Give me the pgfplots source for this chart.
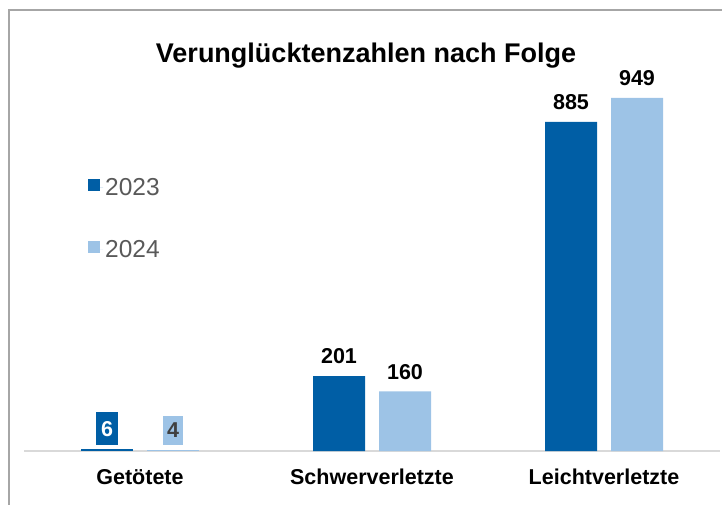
\documentclass[border=0pt]{standalone}
\usepackage{pgfplots}
\pgfplotsset{compat=1.18}
\usepackage{fontspec}
\setmainfont{Liberation Sans}
\definecolor{dblue}{HTML}{005EA5}
\definecolor{lblue}{HTML}{9DC3E6}
\definecolor{bordergray}{HTML}{A6A6A6}
\definecolor{axisgray}{HTML}{D9D9D9}
\definecolor{leggray}{HTML}{595959}
\definecolor{darkgray}{HTML}{404040}
\begin{document}
\begin{tikzpicture}[x=1pt,y=1pt]
\useasboundingbox (0,0) rectangle (722,504);
\draw[color=bordergray, line width=1.5pt] (9,-2) -- (9,494) -- (724,494);
\node[anchor=base, font=\fontsize{27}{30}\selectfont\bfseries] at (366,441) {Verunglücktenzahlen nach Folge};
\begin{axis}[
  at={(24pt,53pt)}, anchor=south west,
  scale only axis, width=696pt, height=400pt,
  xmin=-0.5, xmax=2.5, ymin=0, ymax=1075.3,
  axis y line=none, axis x line*=bottom,
  x axis line style={-, color=axisgray, line width=1.2pt},
  xtick={0,1,2}, xticklabels={Getötete, Schwerverletzte, Leichtverletzte},
  major tick length=0pt,
  xticklabel style={font=\fontsize{21.5}{24}\selectfont\bfseries, anchor=base, yshift=-33pt},
  /pgf/number format/assume math mode=true,
  ybar, bar width=52pt,
  clip=false,
  legend style={draw=none, fill=none, at={(0.092,0.581)}, anchor=west, inner sep=0pt,
    row sep=39pt, font=\fontsize{24.5}{27}\selectfont, text=leggray},
  legend cell align=left,
  legend image code/.code={\path (0pt,0pt) -- (15pt,0pt); \fill[#1] (0pt,-3.3pt) rectangle (12pt,8.7pt);},
  every node near coord/.append style={font=\fontsize{21.5}{24}\selectfont\bfseries, text=black},
]
\addplot[fill=dblue, draw=none, bar shift=-33pt, nodes near coords,
  nodes near coords style={anchor=base, yshift=12.3pt}] coordinates {(1,201) (2,885)};
\addlegendentry{2023}
\addplot[fill=lblue, draw=none, bar shift=33pt, nodes near coords,
  nodes near coords style={anchor=base, yshift=12.3pt}] coordinates {(1,160) (2,949)};
\addlegendentry{2024}
\addplot[forget plot, fill=dblue, draw=none, bar shift=-33pt, nodes near coords,
  nodes near coords style={anchor=center, yshift=20pt, fill=dblue, text=white, inner xsep=5pt, minimum height=33pt}] coordinates {(0,6)};
\addplot[forget plot, fill=lblue, draw=none, bar shift=33pt, nodes near coords,
  nodes near coords style={anchor=center, yshift=19pt, fill=lblue, text=darkgray, inner xsep=4.5pt, minimum height=29pt}] coordinates {(0,4)};
\end{axis}
\end{tikzpicture}
\end{document}
